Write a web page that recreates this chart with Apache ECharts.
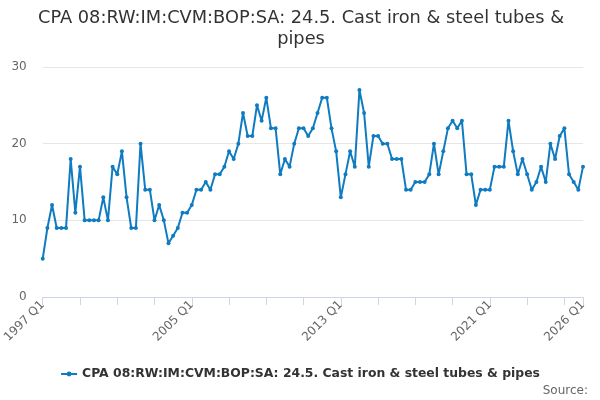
<!DOCTYPE html>
<html lang="en">
<head>
    <meta charset="UTF-8">
    <title>Cast iron & steel tubes & pipes</title>
    <script src="https://cdn.jsdelivr.net/npm/echarts@6.0.0/dist/echarts.min.js"></script>
    <style>
        html, body { margin: 0; padding: 0; background: #fff; }
    </style>
</head>
<body>

    <div id="main" style="width:600px; height:400px;"></div>

    <script>
        // quarterly values, 1997 Q1 .. 2026 Q1
        var values = [
            5, 9, 12, 9, 9, 9, 18, 11, 17, 10, 10, 10, 10, 13, 10, 17, 16, 19, 13, 9,
            9, 20, 14, 14, 10, 12, 10, 7, 8, 9, 11, 11, 12, 14, 14, 15, 14, 16, 16, 17,
            19, 18, 20, 24, 21, 21, 25, 23, 26, 22, 22, 16, 18, 17, 20, 22, 22, 21, 22, 24,
            26, 26, 22, 19, 13, 16, 19, 17, 27, 24, 17, 21, 21, 20, 20, 18, 18, 18, 14, 14,
            15, 15, 15, 16, 20, 16, 19, 22, 23, 22, 23, 16, 16, 12, 14, 14, 14, 17, 17, 17,
            23, 19, 16, 18, 16, 14, 15, 17, 15, 20, 18, 21, 22, 16, 15, 14, 17
        ];
        var startYear = 1997;
        var seriesName = "CPA 08:RW:IM:CVM:BOP:SA: 24.5. Cast iron & steel tubes & pipes";
        var yTicks = [0, 10, 20, 30];

        var quarters = [];
        for (var i = 0; i < values.length; i++) {
            quarters.push((startYear + Math.floor(i / 4)) + " Q" + (i % 4 + 1));
        }
        var last = quarters.length - 1;

        var chart = echarts.init(document.getElementById("main"));

        var options = {
            textStyle: { fontFamily: "DejaVu Sans" },
            title: {
                text: "CPA 08:RW:IM:CVM:BOP:SA: 24.5. Cast iron & steel tubes &\npipes",
                left: 296,
                top: 3,
                textAlign: "center",
                textStyle: {
                    fontFamily: "DejaVu Sans",
                    fontSize: 17.8,
                    fontWeight: "normal",
                    color: "#333333",
                    lineHeight: 21
                }
            },
            legend: {
                bottom: 15,
                left: "center",
                itemWidth: 16,
                itemHeight: 6,
                itemGap: 6,
                textStyle: { fontFamily: "DejaVu Sans", fontSize: 12.4, fontWeight: "bold", color: "#333333" },
                data: [seriesName]
            },
            graphic: [{
                type: "text",
                right: 12,
                bottom: 3,
                style: { text: "Source:", fontFamily: "DejaVu Sans", fontSize: 12, fill: "#666666" }
            }],
            grid: { left: 39, right: 17, top: 67, bottom: 103 },
            xAxis: {
                type: "category",
                boundaryGap: false,
                data: quarters,
                axisLine: { lineStyle: { color: "#ccd6eb" } },
                axisTick: {
                    length: 8,
                    lineStyle: { color: "#ccd6eb" },
                    interval: function (idx) { return idx % 8 === 0 || idx === last; }
                },
                axisLabel: {
                    rotate: 45,
                    color: "#666666",
                    fontSize: 12,
                    margin: 6,
                    interval: function (idx) { return idx % 32 === 0 || idx === last; }
                },
                splitLine: { show: false }
            },
            yAxis: {
                type: "value",
                min: yTicks[0],
                max: yTicks[yTicks.length - 1],
                interval: 10,
                axisLine: { show: false },
                axisTick: { show: false },
                axisLabel: { color: "#666666", fontSize: 12, margin: 16 },
                splitLine: { lineStyle: { color: "#e6e6e6" } }
            },
            series: [{
                name: seriesName,
                type: "line",
                data: values,
                symbol: "circle",
                symbolSize: 4,
                showAllSymbol: true,
                color: "#0f7bc1",
                lineStyle: { width: 2, color: "#0f7bc1" },
                itemStyle: { color: "#0f7bc1" },
                animation: false
            }]
        };

        chart.setOption(options);
    </script>
</body>
</html>
